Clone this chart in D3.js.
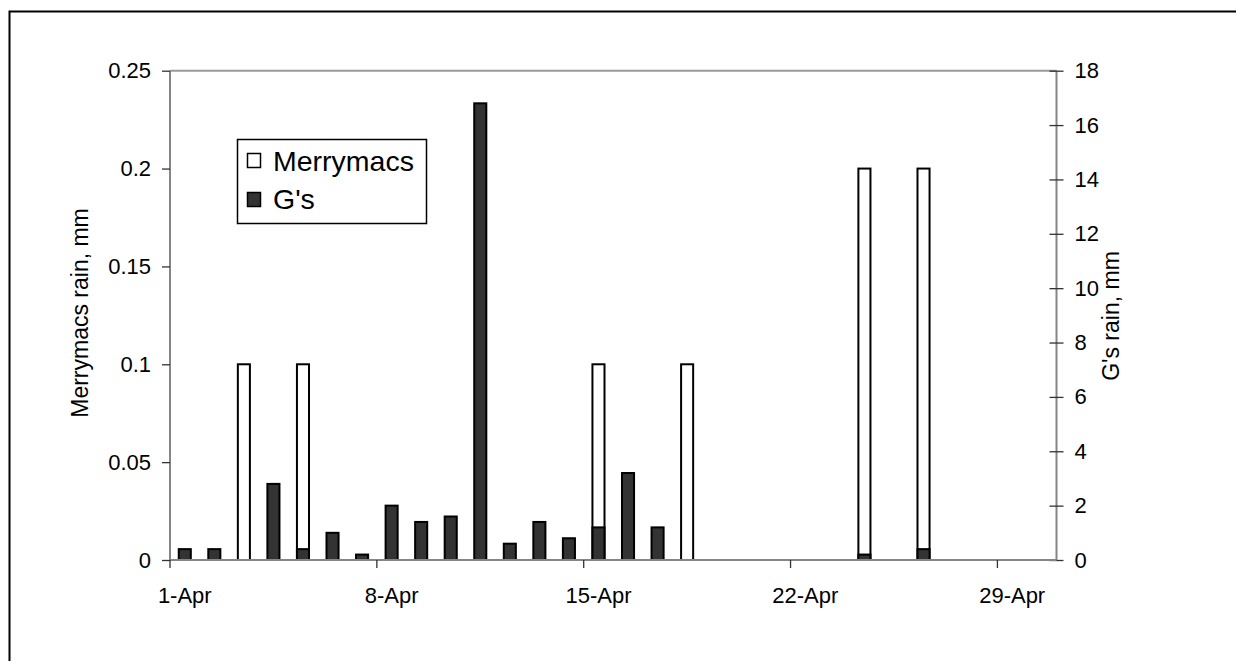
<!DOCTYPE html>
<html>
<head>
<meta charset="utf-8">
<script src="https://cdn.jsdelivr.net/npm/d3@7/dist/d3.min.js"></script>
<style>
  html, body { margin: 0; padding: 0; background: #fff; }
  svg { display: block; font-family: "Liberation Sans", Arial, sans-serif; }
</style>
</head>
<body>
<svg id="chart" width="1236" height="661"></svg>
<script>
// Daily rainfall, April: two gauges on separate value axes
const days = d3.range(1, 31).map(d => d + "-Apr");

// Merrymacs gauge, mm (primary axis)
const merrymacs = [null, null, 0.1, null, 0.1, null, null, null, null, null,
                   null, null, null, null, 0.1, null, null, 0.1, null, null,
                   null, null, null, 0.2, null, 0.2, null, null, null, null];

// G's gauge, mm (secondary axis)
const gs = [0.4, 0.4, null, 2.8, 0.4, 1.0, 0.2, 2.0, 1.4, 1.6,
            16.8, 0.6, 1.4, 0.8, 1.2, 3.2, 1.2, null, null, null,
            null, null, null, 0.2, null, 0.4, null, null, null, null];

const leftTicks = [0, 0.05, 0.1, 0.15, 0.2, 0.25];
const rightTicks = [0, 2, 4, 6, 8, 10, 12, 14, 16, 18];
const xTickLabels = ["1-Apr", "8-Apr", "15-Apr", "22-Apr", "29-Apr"];

const svg = d3.select("#chart");
const plot = { left: 170, right: 1056.5, top: 70.7, bottom: 560 };
const axisGrey = "#858585";

// chart area frame
svg.append("rect")
  .attr("x", 9.5).attr("y", 11.5)
  .attr("width", 1260).attr("height", 700)
  .attr("fill", "#fff").attr("stroke", "#000").attr("stroke-width", 2);

const x = d3.scaleBand().domain(days).range([plot.left, plot.right]).padding(0);
const yL = d3.scaleLinear().domain([0, 0.25]).range([plot.bottom, plot.top]);
const yR = d3.scaleLinear().domain([0, 18]).range([plot.bottom, plot.top]);
const barW = x.bandwidth() / 2.45;

// plot area top edge
svg.append("line")
  .attr("x1", plot.left).attr("x2", plot.right)
  .attr("y1", plot.top).attr("y2", plot.top)
  .attr("stroke", "#9a9a9a").attr("stroke-width", 2);

// bars: Merrymacs behind, G's in front
function drawBars(values, scale, fill) {
  svg.append("g").selectAll("rect")
    .data(values.map((v, i) => ({ day: days[i], v })).filter(d => d.v != null))
    .join("rect")
    .attr("x", d => x(d.day) + x.bandwidth() / 2 - barW / 2)
    .attr("width", barW)
    .attr("y", d => scale(d.v))
    .attr("height", d => scale(0) - scale(d.v))
    .attr("fill", fill)
    .attr("stroke", "#000")
    .attr("stroke-width", 2);
}
drawBars(merrymacs, yL, "#ffffff");
drawBars(gs, yR, "#333333");

// left axis
const leftAxis = d3.axisLeft(yL).tickValues(leftTicks).tickSize(8).tickPadding(11)
  .tickFormat(d => d === 0 ? "0" : String(d));
const gL = svg.append("g").attr("transform", `translate(${plot.left},0)`).call(leftAxis);

// right axis with ticks crossing the line
const rightAxis = d3.axisRight(yR).tickValues(rightTicks).tickSize(7).tickPadding(11)
  .tickFormat(d3.format("d"));
const gR = svg.append("g").attr("transform", `translate(${plot.right},0)`).call(rightAxis);
gR.selectAll(".tick line").attr("x1", -7);

// bottom axis: ticks on week boundaries, labels centred in the day
const bottomAxis = d3.axisBottom(x).tickValues(xTickLabels).tickSize(0).tickPadding(0);
const gB = svg.append("g").attr("transform", `translate(0,${plot.bottom})`).call(bottomAxis);
gB.selectAll(".tick").each(function(d) {
  d3.select(this).append("line")
    .attr("x1", -x.bandwidth() / 2).attr("x2", -x.bandwidth() / 2)
    .attr("y1", 0).attr("y2", 8);
});
gB.selectAll(".tick text").attr("y", 43).attr("dy", 0);

[gL, gR, gB].forEach(g => {
  g.select(".domain").attr("stroke", axisGrey).attr("stroke-width", 2);
  g.selectAll(".tick line").attr("stroke", "#333").attr("stroke-width", 1.3);
  g.selectAll(".tick text").attr("fill", "#000").attr("font-size", 22)
    .attr("font-family", "Liberation Sans, Arial, sans-serif");
});
gL.select(".domain").attr("d", `M0,${plot.bottom}V${plot.top}`);
gR.select(".domain").attr("d", `M0,${plot.bottom}V${plot.top}`);
gB.select(".domain").attr("d", `M${plot.left},0H${plot.right}`);

// axis titles
svg.append("text")
  .attr("transform", "translate(88,313) rotate(-90)")
  .attr("text-anchor", "middle").attr("font-size", 23)
  .text("Merrymacs rain, mm");
svg.append("text")
  .attr("transform", "translate(1119,316) rotate(-90)")
  .attr("text-anchor", "middle").attr("font-size", 23)
  .text("G's rain, mm");

// legend
const legend = svg.append("g");
legend.append("rect")
  .attr("x", 237.5).attr("y", 139.5).attr("width", 189).attr("height", 84)
  .attr("fill", "#fff").attr("stroke", "#000").attr("stroke-width", 1.5);
const items = [
  { name: "Merrymacs", fill: "#ffffff", y: 153.5, base: 170.5 },
  { name: "G's", fill: "#333333", y: 192.5, base: 209 }
];
items.forEach(it => {
  legend.append("rect")
    .attr("x", 247.5).attr("y", it.y).attr("width", 13).attr("height", 14)
    .attr("fill", it.fill).attr("stroke", "#000").attr("stroke-width", 1.5);
  legend.append("text")
    .attr("x", 273).attr("y", it.base).attr("font-size", 28.5)
    .text(it.name);
});
</script>
</body>
</html>
